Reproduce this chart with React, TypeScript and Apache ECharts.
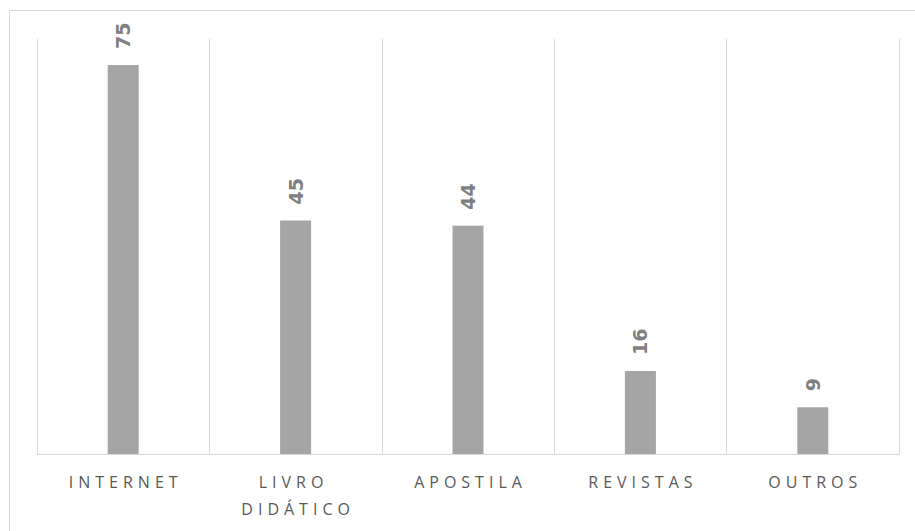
import React, { useEffect, useRef } from "react";
import * as echarts from "echarts";

// Fontes de pesquisa utilizadas pelos alunos
const categories = ["INTERNET", "LIVRO DIDÁTICO", "APOSTILA", "REVISTAS", "OUTROS"];
const values = [75, 45, 44, 16, 9];

const AXIS_MAX = 80;
const LETTER_SPACING = 5;

export default function App() {
  const ref = useRef<HTMLDivElement>(null);

  useEffect(() => {
    if (!ref.current) return;
    const chart = echarts.init(ref.current, null, { renderer: "svg" });
    chart.setOption({
      animation: false,
      backgroundColor: "#ffffff",
      graphic: [
        {
          type: "rect",
          silent: true,
          shape: { x: 9.5, y: 10.5, width: 2000, height: 2000 },
          style: { fill: "none", stroke: "#d9d9d9", lineWidth: 1 },
        },
      ],
      grid: { left: 37, right: 16, top: 39, bottom: 77 },
      xAxis: {
        type: "category",
        data: categories,
        axisLine: { lineStyle: { color: "#d9d9d9", width: 1 } },
        axisTick: { show: false },
        splitLine: { show: true, lineStyle: { color: "#d9d9d9", width: 1 } },
        axisLabel: {
          interval: 0,
          color: "#595959",
          fontFamily: "'Open Sans', sans-serif",
          fontSize: 16,
          lineHeight: 27,
          margin: 14,
          width: 90,
          overflow: "break",
          padding: [0, 0, 0, LETTER_SPACING],
        },
      },
      yAxis: {
        type: "value",
        min: 0,
        max: AXIS_MAX,
        show: false,
        splitLine: { show: false },
      },
      series: [
        {
          type: "bar",
          data: values,
          barWidth: 31,
          itemStyle: { color: "#a5a5a5" },
          label: {
            show: true,
            position: "top",
            rotate: 90,
            align: "left",
            verticalAlign: "middle",
            distance: 16,
            color: "#7f7f7f",
            fontFamily: "'DejaVu Sans', sans-serif",
            fontWeight: "bold",
            fontSize: 19,
          },
        },
      ],
    });
    return () => chart.dispose();
  }, []);

  return (
    <>
      <style>{`
        .chart-box text { letter-spacing: ${LETTER_SPACING}px; }
        .chart-box text[style*="bold"] { letter-spacing: normal; }
      `}</style>
      <div
        ref={ref}
        className="chart-box"
        style={{ position: "fixed", left: 0, top: 0, width: 915, height: 531 }}
      />
    </>
  );
}
